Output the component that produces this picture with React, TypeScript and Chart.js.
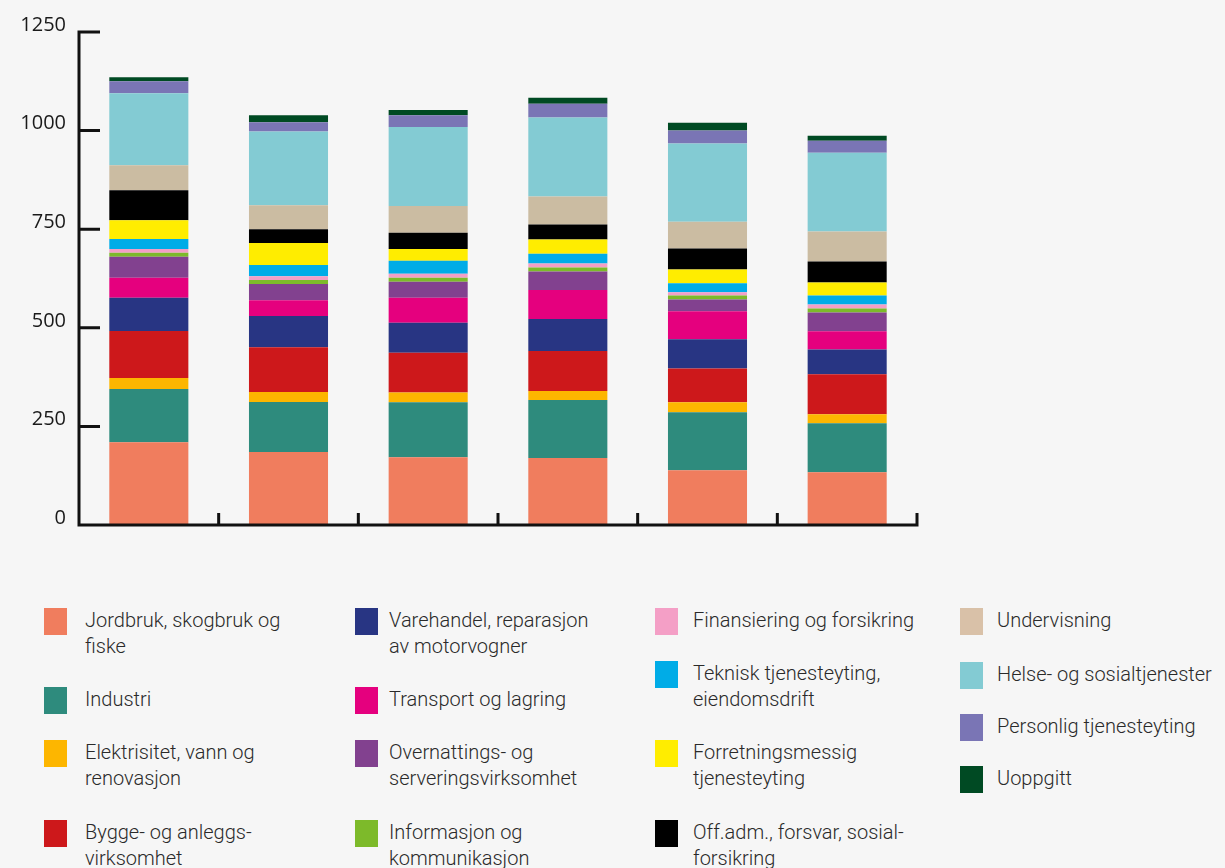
import { useEffect, useRef } from "react";
import { Chart, registerables } from "chart.js";

Chart.register(...registerables);

// ---------- data ----------
const categories = ["1", "2", "3", "4", "5", "6"];
const yTicksMax = 1250;
const yTickStep = 250;

const seriesLabels = [
  "Jordbruk, skogbruk og\nfiske",
  "Industri",
  "Elektrisitet, vann og\nrenovasjon",
  "Bygge- og anleggs-\nvirksomhet",
  "Varehandel, reparasjon\nav motorvogner",
  "Transport og lagring",
  "Overnattings- og\nserveringsvirksomhet",
  "Informasjon og\nkommunikasjon",
  "Finansiering og forsikring",
  "Teknisk tjenesteyting,\neiendomsdrift",
  "Forretningsmessig\ntjenesteyting",
  "Off.adm., forsvar, sosial-\nforsikring",
  "Undervisning",
  "Helse- og sosialtjenester",
  "Personlig tjenesteyting",
  "Uoppgitt",
];

const jordbruk = [210, 185, 172, 170, 139, 134];
const industri = [135, 127, 139, 147, 147, 124];
const elektrisitet = [28, 25, 25, 23, 25, 23];
const bygge = [119, 114, 101, 101, 86, 101];
const varehandel = [84, 79, 76, 81, 74, 63];
const transport = [51, 40, 63, 74, 71, 46];
const overnatting = [53, 41, 41, 47, 30, 48];
const informasjon = [10, 10, 10, 10, 10, 10];
const finansiering = [10, 10, 10, 10, 8, 10];
const teknisk = [25, 28, 33, 25, 23, 23];
const forretning = [48, 56, 30, 36, 35, 33];
const offadm = [76, 35, 41, 38, 53, 53];
const undervisning = [63, 61, 68, 71, 68, 76];
const helse = [183, 187, 200, 200, 198, 200];
const personlig = [30, 23, 30, 35, 33, 30];
const uoppgitt = [10, 18, 13, 15, 20, 13];

const seriesValues = [
  jordbruk, industri, elektrisitet, bygge, varehandel, transport, overnatting,
  informasjon, finansiering, teknisk, forretning, offadm, undervisning, helse,
  personlig, uoppgitt,
];

// ---------- styles ----------
const colors = [
  "#F07D5E", "#2E8B7D", "#FDB600", "#CD181B", "#283583", "#E5007E", "#82418F",
  "#7DBA2A", "#F49FC6", "#00ACE7", "#FFED00", "#000000", "#CBBCA2", "#83CBD3",
  "#7A75B5", "#004A23",
];
const legendSwatchColors = [
  "#F07D5E", "#2E8B7D", "#FDB600", "#CD181B", "#283583", "#E5007E", "#82418F",
  "#7DBA2A", "#F49FC6", "#00ACE7", "#FFED00", "#000000", "#D9C1A8", "#83CBD3",
  "#7A75B5", "#004A23",
];

// legend layout: column index and vertical centre of first text line
const legendCol = [0, 0, 0, 0, 1, 1, 1, 1, 2, 2, 2, 2, 3, 3, 3, 3];
const legendRowY = [620, 699, 752, 832, 620, 699, 752, 832, 620, 673, 752, 832, 620, 674, 726, 778];
const colSwatchX = [44, 355, 655, 960];
const colTextX = [85, 389, 693, 997];

const BG = "#F6F6F6";
const AXIS = "#111111";

export default function App() {
  const ref = useRef<HTMLCanvasElement | null>(null);

  useEffect(() => {
    if (!ref.current) return;

    const axisPlugin = {
      id: "customAxes",
      afterDatasetsDraw(chart: any) {
        const { ctx, chartArea, scales } = chart;
        const xs = scales.x;
        const ys = scales.y;
        const left = chartArea.left;
        const bottom = ys.getPixelForValue(0);
        const top = ys.getPixelForValue(yTicksMax);
        ctx.save();
        ctx.strokeStyle = AXIS;
        ctx.lineWidth = 3;
        ctx.lineCap = "butt";
        ctx.beginPath();
        ctx.moveTo(left, top - 1.5);
        ctx.lineTo(left, bottom + 1.5);
        ctx.moveTo(left - 1.5, bottom);
        ctx.lineTo(chartArea.right + 1.5, bottom);
        ys.ticks.forEach((t: any) => {
          const py = ys.getPixelForValue(t.value);
          ctx.moveTo(left, py);
          ctx.lineTo(left + 21, py);
        });
        for (let i = 0; i < categories.length; i++) {
          const px =
            i < categories.length - 1
              ? (xs.getPixelForValue(i) + xs.getPixelForValue(i + 1)) / 2
              : chartArea.right;
          ctx.moveTo(px, bottom);
          ctx.lineTo(px, bottom - 12);
        }
        ctx.stroke();
        ctx.restore();
      },
    };

    const chart = new Chart(ref.current, {
      type: "bar",
      data: {
        labels: categories,
        datasets: seriesValues.map((vals, i) => ({
          label: seriesLabels[i].replace("\n", " "),
          data: vals,
          backgroundColor: colors[i],
          borderWidth: 0,
          barPercentage: 0.566,
          categoryPercentage: 1,
        })),
      },
      options: {
        responsive: false,
        maintainAspectRatio: false,
        animation: false,
        devicePixelRatio: 1,
        layout: { padding: { top: 32, bottom: 35, left: 0, right: 308 } },
        plugins: {
          legend: { display: false },
          tooltip: { enabled: false },
        },
        scales: {
          x: {
            stacked: true,
            display: false,
          },
          y: {
            stacked: true,
            min: 0,
            max: yTicksMax,
            afterFit: (scale: any) => {
              scale.width = 79;
            },
            ticks: {
              stepSize: yTickStep,
              padding: 13,
              labelOffset: -7,
              color: "#1a1a1a",
              font: { family: "'Open Sans', sans-serif", size: 20 },
              callback: (v: any) => String(v),
            },
            grid: { display: false, drawTicks: false, tickLength: 0 },
            border: { display: false },
          },
        },
      },
      plugins: [axisPlugin],
    });

    return () => chart.destroy();
  }, []);

  return (
    <div
      style={{
        position: "fixed",
        inset: 0,
        background: BG,
        overflow: "hidden",
        fontFamily: "Roboto, 'Open Sans', sans-serif",
      }}
    >
      <canvas
        ref={ref}
        width={1225}
        height={560}
        style={{ position: "absolute", left: 0, top: 0, width: 1225, height: 560 }}
      />
      {seriesLabels.map((lab, i) => {
        const col = legendCol[i];
        const cy = legendRowY[i];
        return (
          <div key={i}>
            <div
              style={{
                position: "absolute",
                left: colSwatchX[col],
                top: cy - 12,
                width: 23,
                height: 27,
                background: legendSwatchColors[i],
              }}
            />
            <div
              style={{
                position: "absolute",
                left: colTextX[col],
                top: cy - 13,
                fontSize: 20,
                fontWeight: 300,
                lineHeight: "26px",
                color: "#2a2a2a",
                whiteSpace: "pre",
              }}
            >
              {lab}
            </div>
          </div>
        );
      })}
    </div>
  );
}
